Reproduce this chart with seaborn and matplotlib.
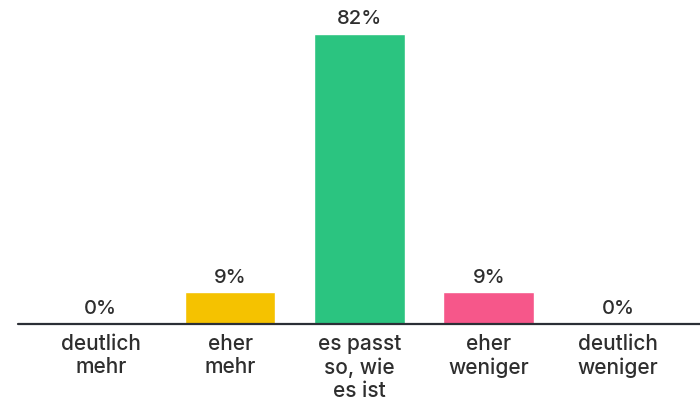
import matplotlib
matplotlib.use("Agg")
import matplotlib.pyplot as plt
import pandas as pd
import seaborn as sns

categories = ["deutlich\nmehr", "eher\nmehr", "es passt\nso, wie\nes ist", "eher\nweniger", "deutlich\nweniger"]
values = [0, 9, 82, 9, 0]
colors = ["#F5C200", "#F5C200", "#2BC480", "#F6578A", "#F6578A"]

TEXT = "#2e2e2e"


def main():
    sns.set_theme(style="white")
    plt.rcParams["font.family"] = ["Inter", "DejaVu Sans"]

    df = pd.DataFrame({"cat": categories, "val": values})

    fig = plt.figure(figsize=(7.0, 4.01), dpi=100)
    ax = fig.add_axes([0.0, (401 - 324) / 401, 1.0, 324 / 401])
    sns.barplot(data=df, x="cat", y="val", hue="cat", palette=colors, legend=False,
                width=0.7, ax=ax, saturation=1)

    ax.set_xlim(-0.78, 4.634)
    ax.set_ylim(0, 91.5)
    ax.axhline(0, xmin=(18 / 700), xmax=1, color="#2b2f36", linewidth=1.6, clip_on=False)

    for i, v in enumerate(values):
        ax.annotate(f"{v}%", (i, v), xytext=(0, 4), textcoords="offset points",
                    ha="center", va="bottom", fontsize=14.5, color=TEXT, fontweight=500)

    ax.set_xticks(range(len(categories)))
    ax.set_xticklabels(categories, fontsize=15, color=TEXT, linespacing=1.22,
                       fontweight=500)
    ax.tick_params(axis="x", length=0, pad=7)
    ax.set_yticks([])
    ax.set_xlabel("")
    ax.set_ylabel("")
    for s in ax.spines.values():
        s.set_visible(False)

    fig.savefig("out.png", dpi=100)


if __name__ == "__main__":
    main()
